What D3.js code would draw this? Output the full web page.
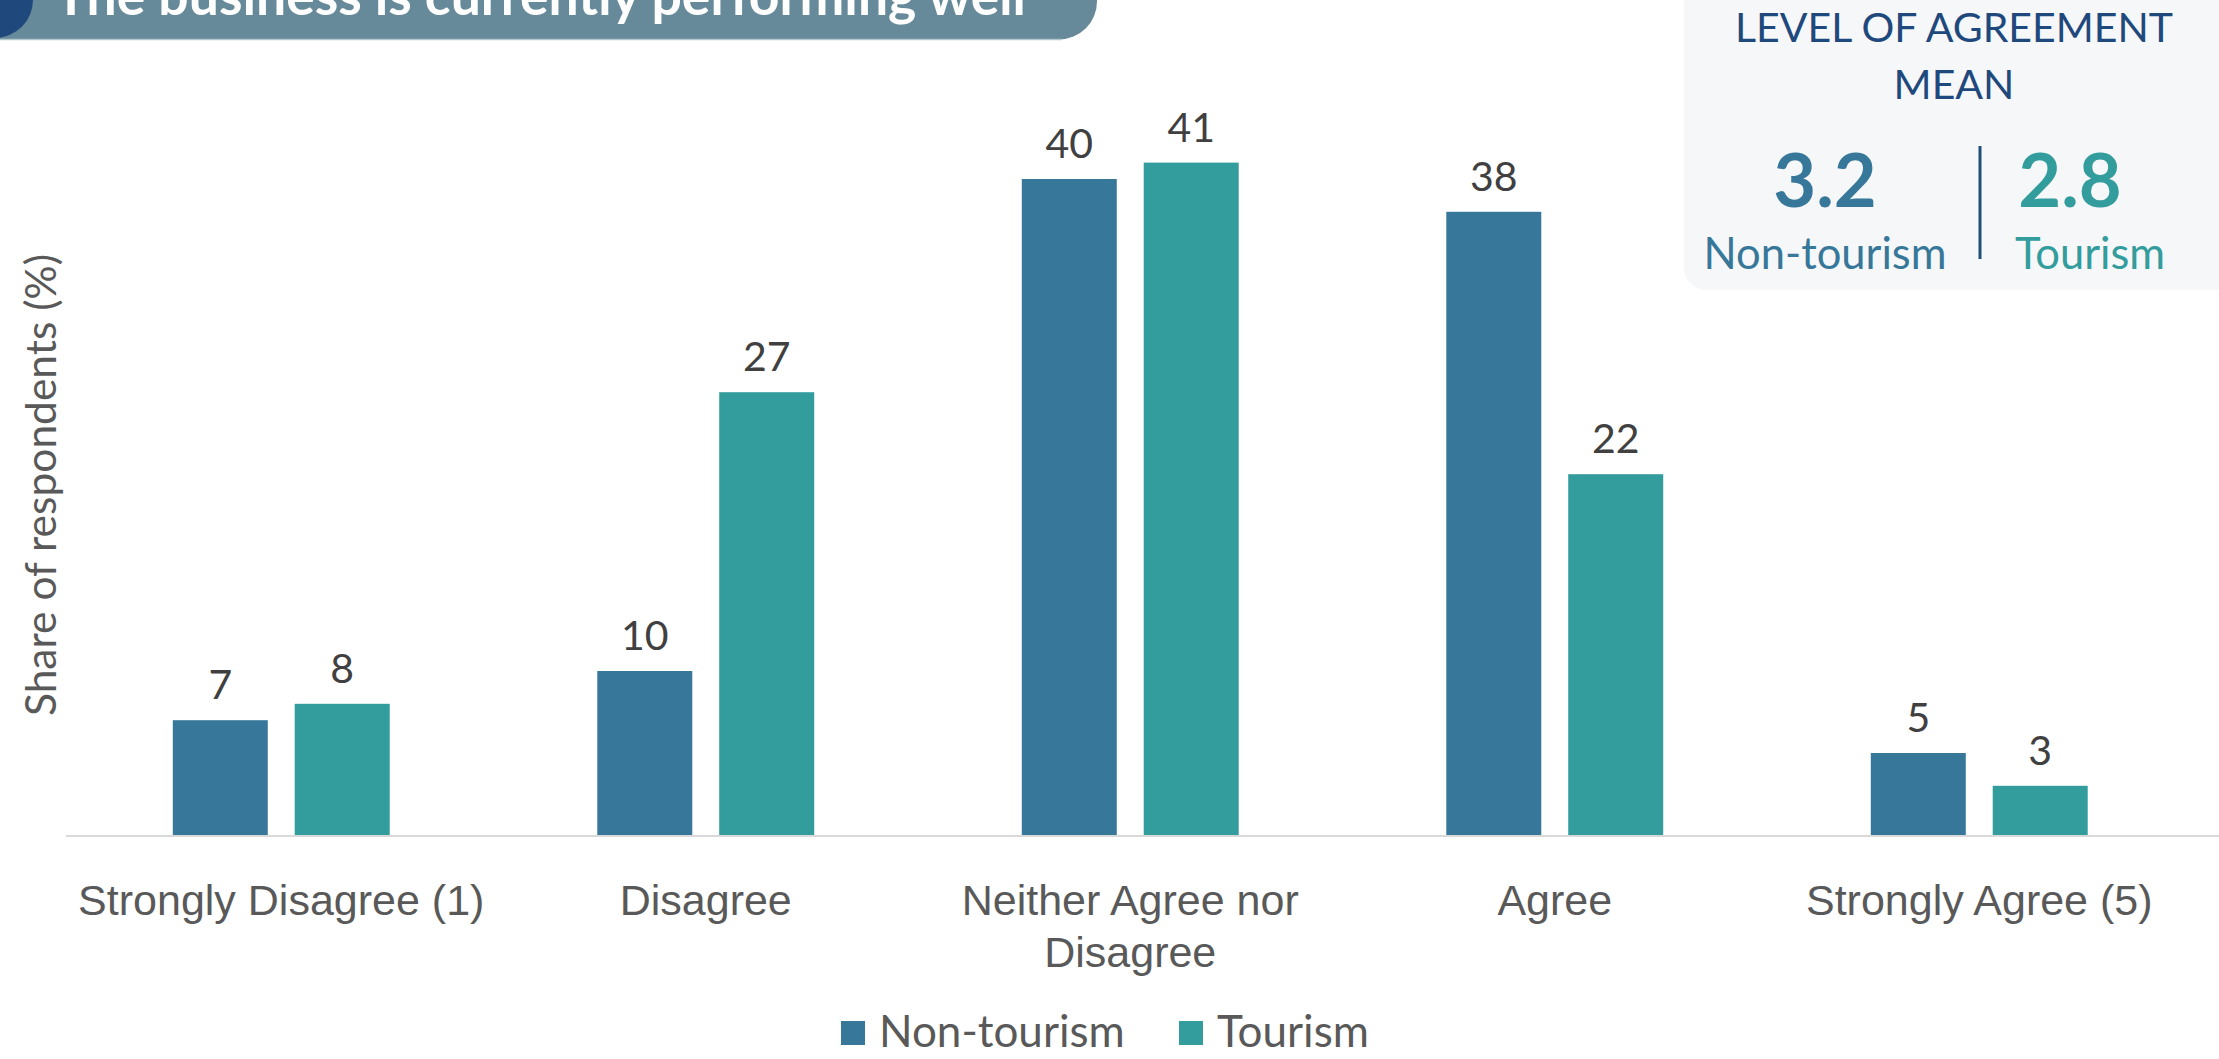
<!DOCTYPE html>
<html>
<head>
<meta charset="utf-8">
<script src="https://cdn.jsdelivr.net/npm/d3@7"></script>
<style>
  html, body { margin: 0; padding: 0; background: #ffffff; }
  svg { display: block; font-family: Lato, "Open Sans", sans-serif; }
</style>
</head>
<body>
<svg id="chart" width="2219" height="1059"></svg>
<script>
// Survey: "The business is currently performing well" — share of respondents (%)
const categories = ["Strongly Disagree (1)", "Disagree", "Neither Agree nor Disagree", "Agree", "Strongly Agree (5)"];
const tickLabels = [["Strongly Disagree (1)"], ["Disagree"], ["Neither Agree nor", "Disagree"], ["Agree"], ["Strongly Agree (5)"]];
const seriesNames = ["Non-tourism", "Tourism"];
const nonTourism = [7, 10, 40, 38, 5];
const tourism = [8, 27, 41, 22, 3];
const means = [3.2, 2.8];

const title = "The business is currently performing well";
const yTitle = "Share of respondents (%)";
const boxTitle = ["LEVEL OF AGREEMENT", "MEAN"];

const colors = { "Non-tourism": "#37789a", "Tourism": "#339c9d" };

const svg = d3.select("#chart");
const W = 2219, H = 1059;

const rows = categories.map((c, i) => ({ category: c, values: [
  { series: seriesNames[0], value: nonTourism[i] },
  { series: seriesNames[1], value: tourism[i] }
]}));

const x0 = d3.scaleBand().domain(categories).range([69, 2191.5]).paddingInner(0.489).paddingOuter(0.2445);
const x1 = d3.scaleBand().domain(seriesNames).range([0, x0.bandwidth()]).paddingInner(0.221);
const y = d3.scaleLinear().domain([0, 50]).range([835, 15]);

// Title banner, running off the top edge of the page
const banner = svg.append("g");
banner.append("rect").attr("x", -60).attr("y", -60).attr("width", 1157).attr("height", 99.5)
  .attr("rx", 38).attr("fill", "#668a99");
banner.append("line").attr("x1", 0).attr("x2", 1062).attr("y1", 39.5).attr("y2", 39.5)
  .attr("stroke", "#b3c7cf").attr("stroke-width", 1.5);
banner.append("circle").attr("cx", -5).attr("cy", 0).attr("r", 38).attr("fill", "#1f497d");
banner.append("text").attr("x", 55).attr("y", 15).attr("fill", "#ffffff")
  .attr("font-weight", 700).attr("font-size", 53.5).text(title);

// Bars
const groups = svg.append("g").selectAll("g").data(rows).join("g")
  .attr("transform", d => `translate(${x0(d.category)},0)`);

groups.selectAll("rect").data(d => d.values).join("rect")
  .attr("x", d => x1(d.series))
  .attr("y", d => y(d.value))
  .attr("width", x1.bandwidth())
  .attr("height", d => y(0) - y(d.value))
  .attr("fill", d => colors[d.series]);

groups.selectAll("text.val").data(d => d.values).join("text")
  .attr("class", "val")
  .attr("x", d => x1(d.series) + x1.bandwidth() / 2)
  .attr("y", d => y(d.value) - 21)
  .attr("text-anchor", "middle")
  .attr("font-size", 41)
  .attr("fill", "#404040")
  .text(d => d.value);

// Baseline
svg.append("line").attr("x1", 66).attr("x2", W).attr("y1", y(0) + 1).attr("y2", y(0) + 1)
  .attr("stroke", "#d9d9d9").attr("stroke-width", 2);

// Category axis
const xAxis = svg.append("g").attr("transform", `translate(0,${y(0)})`)
  .call(d3.axisBottom(x0).tickSize(0).tickFormat(""));
xAxis.select(".domain").remove();
xAxis.selectAll(".tick").each(function(d, i) {
  const t = d3.select(this).append("text")
    .attr("text-anchor", "middle").attr("fill", "#595959")
    .attr("font-size", 43).attr("y", 80);
  tickLabels[i].forEach((line, k) => {
    t.append("tspan").attr("x", 0).attr("dy", k === 0 ? 0 : 52).text(line);
  });
});

// Y axis title
svg.append("text")
  .attr("transform", `translate(56,${485}) rotate(-90)`)
  .attr("text-anchor", "middle").attr("font-size", 42.5).attr("fill", "#595959")
  .text(yTitle);

// Legend
const legend = svg.append("g").attr("transform", "translate(841,1033)");
const legendX = [0, 338];
seriesNames.forEach((s, i) => {
  const g = legend.append("g").attr("transform", `translate(${legendX[i]},0)`);
  g.append("rect").attr("x", 0).attr("y", -12).attr("width", 24).attr("height", 24).attr("fill", colors[s]);
  g.append("text").attr("x", 38).attr("y", 14).attr("font-size", 44).attr("fill", "#595959").text(s);
});

// Mean agreement box
const box = svg.append("g");
box.append("rect").attr("x", 1684).attr("y", -40).attr("width", 600).attr("height", 330)
  .attr("rx", 22).attr("fill", "#f6f7f8");
boxTitle.forEach((t, i) => {
  box.append("text").attr("x", 1954).attr("y", 42 + i * 57).attr("text-anchor", "middle")
    .attr("font-size", 41).attr("fill", "#1f497d").text(t);
});
const meanX = [1825, 2070];
const nameX = [1825, 2090];
means.forEach((m, i) => {
  box.append("text").attr("x", meanX[i]).attr("y", 207).attr("text-anchor", "middle")
    .attr("font-size", 74).attr("font-weight", 700).attr("fill", colors[seriesNames[i]])
    .text(d3.format(".1f")(m));
  box.append("text").attr("x", nameX[i]).attr("y", 269).attr("text-anchor", "middle")
    .attr("font-size", 43.5).attr("fill", colors[seriesNames[i]]).text(seriesNames[i]);
});
box.append("line").attr("x1", 1980).attr("x2", 1980).attr("y1", 146).attr("y2", 259)
  .attr("stroke", "#1f4e79").attr("stroke-width", 3);
</script>
</body>
</html>
